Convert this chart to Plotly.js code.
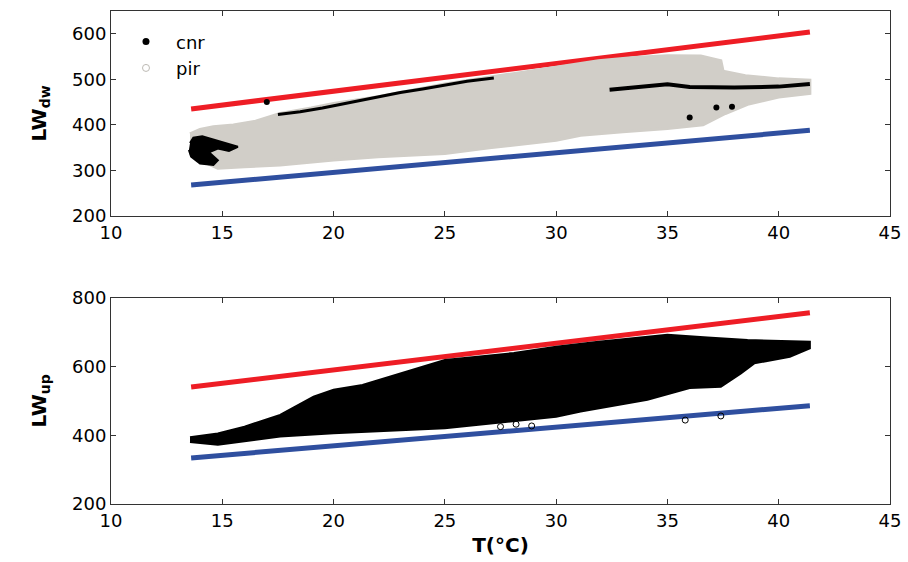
<!DOCTYPE html>
<html>
<head>
<meta charset="utf-8">
<script src="https://cdn.plot.ly/plotly-3.0.1.min.js"></script>
<style>html,body{margin:0;padding:0;background:#fff;}#chart{width:908px;height:562px;}</style>
</head>
<body>
<div id="chart"></div>
<script>
// ---- Tick values ----
const xTicks = [10, 15, 20, 25, 30, 35, 40, 45];
const dwTicks = [200, 300, 400, 500, 600];
const upTicks = [200, 400, 600, 800];

// ---- Envelope lines (T, W/m2) ----
const lineT = [13.6, 41.4];
const dwUpper = [435, 604];
const dwLower = [268, 388];
const upUpper = [540, 756];
const upLower = [334, 486];

// ---- LWdw: pir cloud outline (T, LW) ----
const pirT = [13.55, 14.0, 14.6, 15.5, 16.5, 17.6, 19.0, 20.0, 22.0, 25.0, 28.0, 30.0, 31.9, 33.5, 35.0, 36.5, 37.4, 37.5, 38.5, 40.0, 41.4,
              41.4, 40.0, 38.6, 37.6, 36.6, 35.0, 33.0, 31.1, 30.0, 27.0, 25.0, 22.0, 20.0, 17.6, 16.0, 14.8, 14.2, 13.55];
const pirLW = [380, 390, 396, 400, 408, 425, 437, 447, 462, 490, 512, 527, 541, 548, 552, 551, 541, 518, 508, 501, 498,
               469, 461, 445, 425, 400, 392, 385, 377, 366, 350, 337, 330, 323, 312, 308, 305, 318, 338];

// ---- LWdw: cnr visible parts ----
const cnrBlobT = [13.55, 13.7, 14.1, 14.6, 15.1, 15.7, 15.3, 14.8, 14.4, 14.8, 14.6, 14.0, 13.6, 13.5];
const cnrBlobLW = [360, 372, 375, 368, 360, 352, 343, 348, 340, 322, 312, 315, 330, 345];
const cnrEdgeT = [17.5, 18.5, 19.5, 20.5, 21.5, 22.0, 23.0, 24.0, 25.0, 26.0, 27.2];
const cnrEdgeLW = [423, 429, 437, 447, 456, 462, 471, 479, 488, 496, 503];
const cnrRightT = [32.4, 34.1, 35.0, 36.0, 38.0, 40.0, 41.4];
const cnrRightLW = [477, 485, 489, 483, 482, 484, 490];
const cnrSpotT = [37.2, 37.9, 36.0, 17.0];
const cnrSpotLW = [438, 440, 416, 450];

// ---- LWup: cloud outline ----
const upT = [13.55, 14.8, 16.0, 17.6, 19.1, 20.0, 21.3, 25.0, 28.1, 30.0, 31.9, 35.0, 36.8, 38.6, 41.4,
             41.4, 40.5, 38.9, 38.3, 37.4, 36.0, 34.1, 31.1, 30.0, 25.0, 20.0, 17.6, 15.5, 14.8, 13.55];
const upLW = [394, 405, 425, 459, 512, 532, 546, 619, 639, 657, 672, 692, 684, 677, 672,
              653, 628, 609, 580, 541, 537, 503, 469, 454, 420, 406, 396, 378, 372, 380];
const upOutT = [27.5, 28.2, 28.9, 35.8, 37.4];
const upOutLW = [425, 432, 427, 444, 456];

const RED = '#ee1d25', BLUE = '#2f4f9f', GRAY = '#d1cec8';
const FONT = 'DejaVu Sans, Liberation Sans, Arial, sans-serif';

const traces = [
  // top panel
  {x: lineT, y: dwUpper, xaxis: 'x', yaxis: 'y', mode: 'lines', line: {color: RED, width: 5}, showlegend: false, hoverinfo: 'skip'},
  {x: lineT, y: dwLower, xaxis: 'x', yaxis: 'y', mode: 'lines', line: {color: BLUE, width: 5}, showlegend: false, hoverinfo: 'skip'},
  {x: pirT, y: pirLW, xaxis: 'x', yaxis: 'y', mode: 'lines', fill: 'toself', fillcolor: GRAY, line: {color: GRAY, width: 3}, showlegend: false},
  {x: cnrBlobT, y: cnrBlobLW, xaxis: 'x', yaxis: 'y', mode: 'lines', fill: 'toself', fillcolor: '#000', line: {color: '#000', width: 2}, showlegend: false},
  {x: cnrEdgeT, y: cnrEdgeLW, xaxis: 'x', yaxis: 'y', mode: 'lines', line: {color: '#000', width: 3}, showlegend: false},
  {x: cnrRightT, y: cnrRightLW, xaxis: 'x', yaxis: 'y', mode: 'lines', line: {color: '#000', width: 4}, showlegend: false},
  {x: cnrSpotT, y: cnrSpotLW, xaxis: 'x', yaxis: 'y', mode: 'markers', marker: {color: '#000', size: 6}, showlegend: false},
  // legend entries
  {x: [null], y: [null], xaxis: 'x', yaxis: 'y', mode: 'markers', name: 'cnr', marker: {color: '#000', size: 7, symbol: 'circle'}},
  {x: [null], y: [null], xaxis: 'x', yaxis: 'y', mode: 'markers', name: 'pir', marker: {color: '#bdbab4', size: 7, symbol: 'circle-open'}},
  // bottom panel
  {x: lineT, y: upUpper, xaxis: 'x2', yaxis: 'y2', mode: 'lines', line: {color: RED, width: 5}, showlegend: false},
  {x: lineT, y: upLower, xaxis: 'x2', yaxis: 'y2', mode: 'lines', line: {color: BLUE, width: 5}, showlegend: false},
  {x: upT, y: upLW, xaxis: 'x2', yaxis: 'y2', mode: 'lines', fill: 'toself', fillcolor: '#000', line: {color: '#000', width: 2}, showlegend: false},
  {x: upOutT, y: upOutLW, xaxis: 'x2', yaxis: 'y2', mode: 'markers', marker: {color: '#000', size: 6, symbol: 'circle-open'}, showlegend: false}
];

const axBase = {
  showline: true, mirror: 'ticks', linecolor: '#333', linewidth: 1,
  ticks: 'inside', ticklen: 5, tickcolor: '#333', showgrid: false, zeroline: false,
  tickfont: {family: FONT, size: 18, color: '#000'}
};

const layout = {
  width: 908, height: 562,
  margin: {l: 111, r: 18, t: 11, b: 58},
  paper_bgcolor: '#fff', plot_bgcolor: '#fff',
  font: {family: FONT, color: '#000'},
  xaxis: Object.assign({}, axBase, {domain: [0, 1], range: [10, 45], tickvals: xTicks, anchor: 'y'}),
  yaxis: Object.assign({}, axBase, {domain: [0.5842, 1], range: [200, 650], tickvals: dwTicks, anchor: 'x',
    title: {text: '<b>LW<sub>dw</sub></b>', font: {family: FONT, size: 20, color: '#000'}, standoff: 20}}),
  xaxis2: Object.assign({}, axBase, {domain: [0, 1], range: [10, 45], tickvals: xTicks, anchor: 'y2',
    title: {text: '<b>T(°C)</b>', font: {family: FONT, size: 20, color: '#000'}, standoff: 8}}),
  yaxis2: Object.assign({}, axBase, {domain: [0, 0.4185], range: [200, 800], tickvals: upTicks, anchor: 'x2',
    title: {text: '<b>LW<sub>up</sub></b>', font: {family: FONT, size: 20, color: '#000'}, standoff: 20}}),
  showlegend: true,
  legend: {x: 0.0064, y: 0.975, xanchor: 'left', yanchor: 'top', bgcolor: 'rgba(0,0,0,0)', itemwidth: 50,
    font: {family: FONT, size: 18, color: '#000'}}
};

Plotly.newPlot('chart', traces, layout, {displayModeBar: false, staticPlot: true});
</script>
</body>
</html>
